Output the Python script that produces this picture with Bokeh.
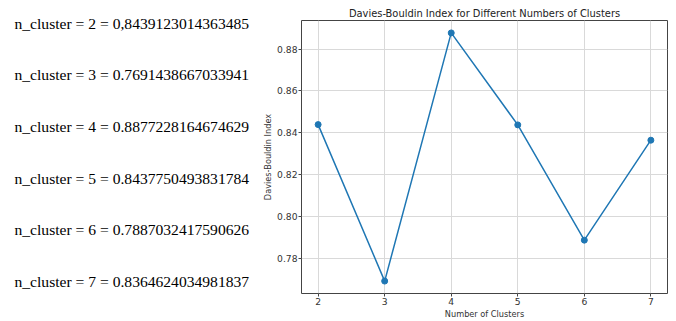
from bokeh.plotting import figure
from bokeh.layouts import row
from bokeh.models import Range1d, FixedTicker, NumeralTickFormatter
from bokeh.core.properties import value
from bokeh.embed import file_html
from bokeh.resources import INLINE

# ---- data ----
n_clusters = [2, 3, 4, 5, 6, 7]
db_index = [0.8439123014363485, 0.7691438667033941, 0.8877228164674629,
            0.8437750493831784, 0.7887032417590626, 0.8364624034981837]
value_labels = ["0,8439123014363485", "0.7691438667033941", "0.8877228164674629",
                "0.8437750493831784", "0.7887032417590626", "0.8364624034981837"]
x_ticks = [2, 3, 4, 5, 6, 7]
y_ticks = [0.78, 0.80, 0.82, 0.84, 0.86, 0.88]
title_text = "Davies-Bouldin Index for Different Numbers of Clusters"
x_label = "Number of Clusters"
y_label = "Davies-Bouldin Index"

H = 321

# ---- left: text listing ----
lines = [f"n_cluster = {n} = {v}" for n, v in zip(n_clusters, value_labels)]
left = figure(width=258, height=H, x_range=Range1d(-14, 244),
              y_range=Range1d(start=7.781, end=1.560), output_backend="svg",
              toolbar_location=None, x_axis_location=None, y_axis_location=None,
              min_border=0)
left.frame_align = False
left.title.visible = False
left.grid.visible = False
left.outline_line_color = None
left.text(x=[0] * len(lines), y=n_clusters, text=lines,
          text_font=value("Liberation Serif"), text_font_size="15.6px",
          text_baseline="middle", text_align="left", text_color="black")

# ---- right: chart ----
lo, hi = min(db_index), max(db_index)
pad = 0.05 * (hi - lo)
xpad = 0.05 * (max(n_clusters) - min(n_clusters))
p = figure(width=418, height=H,
           x_range=Range1d(min(n_clusters) - xpad, max(n_clusters) + xpad),
           y_range=Range1d(lo - pad, hi + pad),
           output_backend="svg", toolbar_location=None,
           min_border_left=43, min_border_right=9, min_border_top=20, min_border_bottom=28)
p.frame_align = False
p.title.text = title_text
p.title.align = "center"
p.title.text_font = "DejaVu Sans"
p.title.text_font_size = "9.9px"
p.title.text_font_style = "normal"
p.title.text_color = "#222222"
p.title.standoff = 3

p.line(n_clusters, db_index, line_color="#1f77b4", line_width=1.5)
p.scatter(n_clusters, db_index, size=6, fill_color="#1f77b4", line_color="#1f77b4")

p.xaxis.ticker = FixedTicker(ticks=x_ticks)
p.yaxis.ticker = FixedTicker(ticks=y_ticks)
p.yaxis.formatter = NumeralTickFormatter(format="0.00")
p.xaxis.axis_label = x_label
p.yaxis.axis_label = y_label
for ax in p.axis:
    ax.axis_line_color = None
    ax.major_tick_in = 0
    ax.major_tick_out = 3
    ax.minor_tick_line_color = None
    ax.major_tick_line_color = "#444444"
    ax.major_label_text_font = "DejaVu Sans"
    ax.major_label_text_font_size = "9.2px"
    ax.major_label_text_color = "#333333"
    ax.major_label_standoff = 1
    ax.axis_label_text_font = "DejaVu Sans"
    ax.axis_label_text_font_size = "8.2px"
    ax.axis_label_text_font_style = "normal"
    ax.axis_label_text_color = "#333333"
    ax.axis_label_standoff = 1
p.grid.grid_line_color = "#d9d9d9"
p.grid.grid_line_width = 1
p.outline_line_color = "#444444"
p.outline_line_alpha = 1
p.outline_line_width = 1

layout = row(left, p)
open("out.html", "w").write(file_html(layout, INLINE))
